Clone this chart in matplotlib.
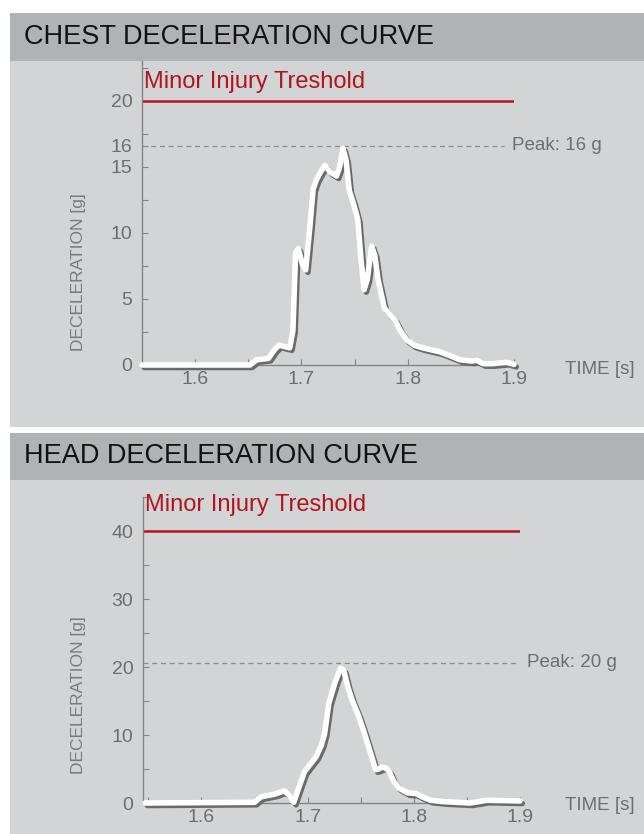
import matplotlib
matplotlib.use("Agg")
import matplotlib.pyplot as plt
import matplotlib.patheffects as pe
from matplotlib.patches import Rectangle
from matplotlib.ticker import MultipleLocator

plt.rcParams['font.family'] = ['Liberation Sans', 'DejaVu Sans']

# chest curve (time [s], deceleration [g])
chest_t = [1.55, 1.6516, 1.658, 1.669, 1.675, 1.679, 1.684, 1.689, 1.692, 1.6945, 1.697,
           1.701, 1.704, 1.708, 1.711, 1.714, 1.718, 1.722, 1.727, 1.733, 1.736, 1.739,
           1.742, 1.745, 1.749, 1.753, 1.756, 1.759, 1.762, 1.766, 1.769, 1.772,
           1.778, 1.788, 1.793, 1.799, 1.806, 1.814, 1.830, 1.840, 1.849, 1.860, 1.865,
           1.871, 1.880, 1.893, 1.9]
chest_g = [0.0, 0.0, 0.4, 0.5, 1.2, 1.5, 1.4, 1.3, 2.6, 8.5, 8.8,
           7.6, 7.2, 10.5, 13.3, 14.0, 14.6, 15.1, 14.6, 14.3, 15.0, 16.4,
           15.5, 13.2, 12.2, 11.0, 8.0, 5.7, 6.5, 9.0, 8.3, 6.5,
           4.3, 3.4, 2.6, 1.9, 1.5, 1.3, 1.0, 0.7, 0.4, 0.3, 0.35,
           0.1, 0.1, 0.2, 0.05]

# head curve
head_t = [1.547, 1.650, 1.656, 1.669, 1.678, 1.683, 1.687, 1.692, 1.697, 1.703, 1.708,
          1.713, 1.716, 1.720, 1.726, 1.731, 1.734, 1.738, 1.742, 1.748, 1.753, 1.759,
          1.764, 1.767, 1.770, 1.774, 1.777, 1.781, 1.786, 1.794, 1.802, 1.808, 1.816,
          1.828, 1.853, 1.869, 1.9]
head_g = [0.0, 0.1, 0.9, 1.3, 1.8, 1.1, 0.1, 2.4, 4.6, 5.8, 6.8,
          8.5, 10.2, 14.7, 17.8, 19.8, 19.5, 17.0, 15.1, 12.8, 10.5, 7.5,
          4.9, 5.0, 5.3, 5.1, 4.6, 3.2, 2.2, 1.5, 1.4, 0.9, 0.4,
          0.2, 0.0, 0.4, 0.3]

titles = ['CHEST DECELERATION CURVE', 'HEAD DECELERATION CURVE']
thresholds = [20, 40]
peaks = [16.6, 20.6]
peak_labels = ['Peak: 16 g', 'Peak: 20 g']

W, H = 644, 834
fig = plt.figure(figsize=(W / 100, H / 100), dpi=100)
fig.patch.set_facecolor('white')

header_c = '#b0b3b6'
body_c = '#d3d4d6'
red = '#b0141c'
grey_txt = '#6e6e6e'

def px_rect(x0, y0, x1, y1, color):
    fig.add_artist(Rectangle((x0 / W, 1 - y1 / H), (x1 - x0) / W, (y1 - y0) / H,
                             transform=fig.transFigure, color=color, lw=0, zorder=0))

# panels
px_rect(10, 13, W, 61, header_c)
px_rect(10, 61, W, 427, body_c)
px_rect(10, 433, W, 480, header_c)
px_rect(10, 480, W, H, body_c)
fig.text(24 / W, 1 - 37 / H, titles[0], fontsize=19.5, va='center', color='#111111')
fig.text(24 / W, 1 - 456 / H, titles[1], fontsize=19.5, va='center', color='#111111')

# axes boxes in pixels: left, right, top, bottom
boxes = [(142, 514, 61, 365), (143, 520, 497, 803)]
xlims = [(1.55, 1.9), (1.545, 1.9)]
ylims = [(0, 23), (0, 45)]
yticks = [[0, 5, 10, 15, peaks[0], 20], [0, 10, 20, 30, 40]]
ytlabels = [['0', '5', '10', '15', '16', '20'], ['0', '10', '20', '30', '40']]
yminor = [2.5, 5]
curves = [(chest_t, chest_g), (head_t, head_g)]
peak_end = [1.891, 1.897]
peak_text_x = [1.8985, 1.9065]
ylab_y = [0.306, 0.353]
time_y = [370, 805]
thr_text_y = [20.55, 42.2]

for i in range(2):
    l, r, t, b = boxes[i]
    ax = fig.add_axes([l / W, 1 - b / H, (r - l) / W, (b - t) / H])
    ax.set_facecolor('none')
    ax.set_xlim(*xlims[i])
    ax.set_ylim(*ylims[i])
    for s in ['top', 'right']:
        ax.spines[s].set_visible(False)
    for s in ['left', 'bottom']:
        ax.spines[s].set_color('#858585')
        ax.spines[s].set_linewidth(1)
    ax.set_xticks([1.6, 1.7, 1.8, 1.9])
    ax.set_xticklabels(['1.6', '1.7', '1.8', '1.9'])
    ax.xaxis.set_minor_locator(MultipleLocator(0.05))
    ax.set_yticks(yticks[i])
    ax.set_yticklabels(ytlabels[i])
    ax.yaxis.set_minor_locator(MultipleLocator(yminor[i]))
    ax.tick_params(axis='both', which='both', direction='in', length=4, width=0.8,
                   color='#858585', labelcolor=grey_txt, labelsize=14)
    ax.tick_params(axis='y', pad=7)
    ax.tick_params(axis='x', pad=4)

    # threshold
    ax.plot([xlims[i][0], 1.9], [thresholds[i]] * 2, color=red, lw=1.8, solid_capstyle='butt')
    ax.text(xlims[i][0] + 0.0015, thr_text_y[i], 'Minor Injury Treshold',
            color=red, fontsize=17, va='bottom', clip_on=False)

    # peak
    ax.plot([xlims[i][0], peak_end[i]], [peaks[i]] * 2, color='#8c8c8c', lw=0.9,
            ls=(0, (4, 3)))
    ax.text(peak_text_x[i], peaks[i], peak_labels[i], color=grey_txt, fontsize=13.5,
            va='center', ha='left', clip_on=False)

    tt, gg = curves[i]
    ax.plot(tt, gg, color='white', lw=4, solid_joinstyle='round', solid_capstyle='round',
            path_effects=[pe.SimpleLineShadow(offset=(1.6, -1.8), shadow_color='#6a6a6a', alpha=1),
                          pe.Normal()], zorder=5, clip_on=False)

    ax.set_ylabel('DECELERATION [g]', color='#7a7a7a', fontsize=12.5)
    ax.yaxis.set_label_coords(-0.15, ylab_y[i])
    fig.text(565 / W, 1 - time_y[i] / H, 'TIME [s]', color=grey_txt, fontsize=13.5, va='center')

fig.savefig('out.png', dpi=100)
